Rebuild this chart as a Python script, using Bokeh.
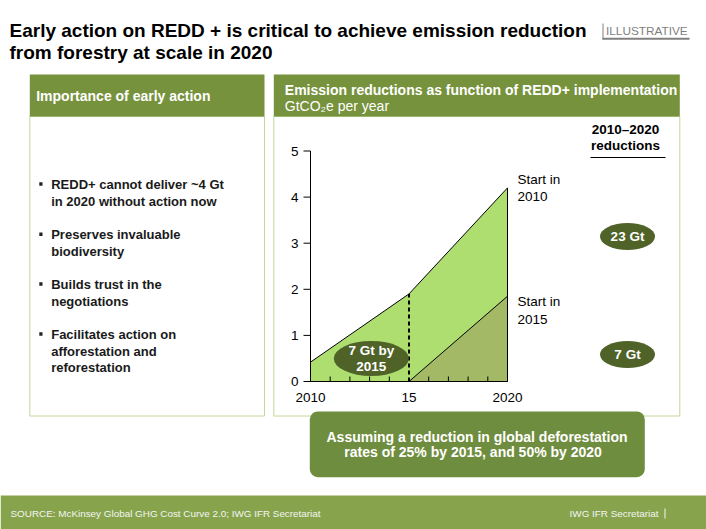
from bokeh.plotting import figure
from bokeh.models import Range1d
from bokeh.core.properties import value
from bokeh.embed import file_html
from bokeh.resources import INLINE

# ---------------- data ----------------
years_2010 = [2010, 2015, 2020]          # "Start in 2010" path
start_2010 = [0.42, 1.9, 4.2]            # GtCO2e per year
years_2015 = [2015, 2020]                # "Start in 2015" path
start_2015 = [0.0, 1.85]
y_ticks = [0, 1, 2, 3, 4, 5]
y_tick_labels = ["0", "1", "2", "3", "4", "5"]
minor_years = [2011, 2012, 2013, 2014, 2016, 2017, 2018, 2019]
x_label_years = [2010, 2015, 2020]
x_labels = ["2010", "15", "2020"]
totals = ["23 Gt", "7 Gt"]
early_total = ["7 Gt by", "2015"]
title_lines = ["Early action on REDD + is critical to achieve emission reduction",
               "from forestry at scale in 2020"]
bullets = [["REDD+ cannot deliver ~4 Gt", "in 2020 without action now"],
           ["Preserves invaluable", "biodiversity"],
           ["Builds trust in the", "negotiations"],
           ["Facilitates action on", "afforestation and", "reforestation"]]
callout_lines = ["Assuming a reduction in global deforestation",
                 "rates of 25%  by 2015, and 50%  by 2020"]

# ---------------- layout ----------------
W, H = 706, 529
FONT = value("Liberation Sans")
HEAD_GREEN = "#76923C"
LIGHT = "#AEDD70"
OLIVE = "#A3B966"
DARK = "#4F6228"
BORDER = "#C3D69B"

p = figure(width=W, height=H, x_range=Range1d(0, W), y_range=Range1d(H, 0),
           output_backend="svg", toolbar_location=None, x_axis_type=None, y_axis_type=None,
           min_border=0, outline_line_color=None)
p.grid.visible = False
p.background_fill_color = "white"
p.border_fill_color = "white"

# chart scale anchors (page pixels)
X2010, X2020 = 310.0, 507.0
Y0, Y5 = 381.0, 150.5
ppy = (X2020 - X2010) / 10.0
ppg = (Y0 - Y5) / 5.0
p.extra_x_ranges = {"yr": Range1d(2010 - X2010 / ppy, 2010 + (W - X2010) / ppy)}
p.extra_y_ranges = {"gt": Range1d(-(H - Y0) / ppg, Y0 / ppg)}
D = dict(x_range_name="yr", y_range_name="gt")

# title
for i, t in enumerate(title_lines):
    p.text(x=[9], y=[30 + 22 * i], text=[t], text_font=FONT, text_font_style="bold",
           text_font_size="19px", text_color="black", text_baseline="middle", text_align="left")

# ILLUSTRATIVE tag
p.text(x=[605.5], y=[30], text=["ILLUSTRATIVE"], text_font=FONT, text_font_size="11.8px",
       text_color="#7F7F7F", text_baseline="middle", text_align="left")
p.segment(x0=[602.5], y0=[23], x1=[602.5], y1=[39], line_color="#808080", line_width=1)
p.segment(x0=[602], y0=[38.3], x1=[689], y1=[38.3], line_color="#808080", line_width=2)

# panels
for (l, r) in [(29.3, 264.0), (273.3, 679.3)]:
    p.quad(left=[l], right=[r], top=[116], bottom=[415.5], fill_color="white",
           line_color=BORDER, line_width=1)
    p.quad(left=[l], right=[r], top=[74], bottom=[116], fill_color=HEAD_GREEN, line_color=None)

p.text(x=[35.7], y=[95], text=["Importance of early action"], text_font=FONT,
       text_font_style="bold", text_font_size="14px", text_color="white",
       text_baseline="middle")
p.text(x=[284.3], y=[89], text=["Emission reductions as function of REDD+ implementation"],
       text_font=FONT, text_font_style="bold", text_font_size="14px", text_color="white",
       text_baseline="middle")
p.text(x=[284.3], y=[105], text=["GtCO\u2082e per year"], text_font=FONT,
       text_font_size="14px", text_color="white", text_baseline="middle")

# bullets
first_y = [184, 234.3, 284, 334]
for b, y0 in zip(bullets, first_y):
    p.quad(left=[38.8], right=[42], top=[y0 - 2.2], bottom=[y0 + 1.2], fill_color="#222222",
           line_color=None)
    for j, line in enumerate(b):
        p.text(x=[50.7], y=[y0 + 16.7 * j], text=[line], text_font=FONT,
               text_font_style="bold", text_font_size="13px", text_color="#1A1A1A",
               text_baseline="middle")

# ---- chart (data coordinates) ----
p.patch(x=[2010] + years_2010 + [2020], y=[0] + start_2010 + [0], fill_color=LIGHT,
        line_color="black", line_width=1, **D)
p.patch(x=years_2015 + [years_2015[-1]], y=start_2015 + [0], fill_color=OLIVE,
        line_color="black", line_width=1, **D)
p.segment(x0=[2015], y0=[0], x1=[2015], y1=[start_2010[1]], line_color="black",
          line_width=2, line_dash="4 3", **D)
# axes
p.segment(x0=[2010], y0=[0], x1=[2010], y1=[max(y_ticks)], line_color="black", line_width=1, **D)
p.segment(x0=[2010], y0=[0], x1=[2020], y1=[0], line_color="black", line_width=1, **D)
p.segment(x0=[2010 - 7 / ppy] * len(y_ticks), y0=y_ticks, x1=[2010] * len(y_ticks), y1=y_ticks,
          line_color="black", line_width=1, **D)
p.segment(x0=minor_years, y0=[0] * len(minor_years), x1=minor_years,
          y1=[5 / ppg] * len(minor_years), line_color="black", line_width=1, **D)
p.text(x=[2010] * len(y_ticks), y=y_ticks, text=y_tick_labels, text_font=FONT,
       text_font_size="13.5px", text_color="black", text_align="right",
       text_baseline="middle", x_offset=-12, **D)
p.text(x=x_label_years, y=[0] * 3, text=x_labels, text_font=FONT, text_font_size="13.5px",
       text_color="black", text_align="center", text_baseline="middle", y_offset=16, **D)

# path labels
for ys, yoff, lbl in [(start_2010[-1], -8.7, "2010"), (start_2015[-1], 5.5, "2015")]:
    p.text(x=[2020, 2020], y=[ys, ys], text=["Start in", lbl], text_font=FONT,
           text_font_size="13.5px", text_color="black", text_align="left",
           text_baseline="middle", x_offset=10, y_offset=[yoff, yoff + 17.3], **D)

# reductions column
p.text(x=[625, 625], y=[129, 145], text=["2010\u20132020", "reductions"], text_font=FONT,
       text_font_style="bold", text_font_size="13.5px", text_color="black",
       text_align="center", text_baseline="middle")
p.segment(x0=[590], y0=[157], x1=[665], y1=[157], line_color="black", line_width=1)
p.ellipse(x=[627, 627], y=[236, 354], width=55, height=27, width_units="screen",
          height_units="screen", fill_color=DARK, line_color=None)
p.text(x=[627, 627], y=[236, 354], text=totals, text_font=FONT, text_font_style="bold",
       text_font_size="13.5px", text_color="white", text_align="center",
       text_baseline="middle")
p.ellipse(x=[370.8], y=[358], width=75, height=35, width_units="screen",
          height_units="screen", fill_color=DARK, line_color=None)
p.text(x=[370.8, 370.8], y=[350, 366], text=early_total, text_font=FONT,
       text_font_style="bold", text_font_size="13.5px", text_color="white",
       text_align="center", text_baseline="middle")

# callout
p.quad(left=[309.3], right=[644.3], top=[411], bottom=[476.7], fill_color="#6F8D3E",
       line_color=None, border_radius=8)
for i, t in enumerate(callout_lines):
    p.text(x=[476.5], y=[436 + 15.7 * i], text=[t], text_font=FONT, text_font_style="bold",
           text_font_size="14px", text_color="white", text_align="center",
           text_baseline="middle")

# footer
p.quad(left=[0], right=[W], top=[495], bottom=[H], fill_color="#87A44C", line_color=None)
p.text(x=[10], y=[513], text=["SOURCE: McKinsey Global GHG Cost Curve 2.0; IWG IFR Secretariat"],
       text_font=FONT, text_font_size="9.9px", text_color="#F4F4F4", text_baseline="middle")
p.text(x=[658], y=[513], text=["IWG IFR Secretariat"], text_font=FONT, text_font_size="9.9px",
       text_color="#F4F4F4", text_baseline="middle", text_align="right")
p.segment(x0=[664.5], y0=[508], x1=[664.5], y1=[518], line_color="#F4F4F4", line_width=1)

open("out.html", "w").write(file_html(p, INLINE))
